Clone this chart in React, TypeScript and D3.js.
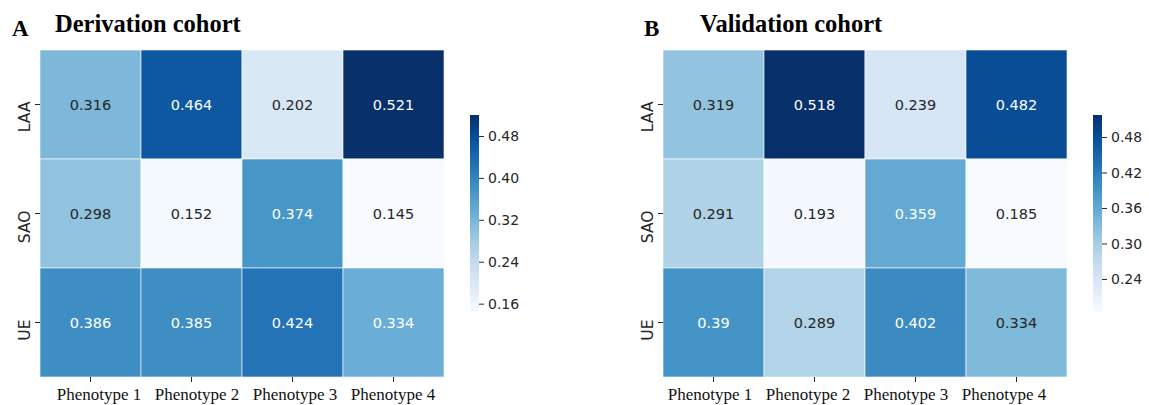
import React from "react";
import * as d3 from "d3";

const phenotypes = ["Phenotype 1", "Phenotype 2", "Phenotype 3", "Phenotype 4"];
const groups = ["LAA", "SAO", "UE"];
const derivationValues = [
  [0.316, 0.464, 0.202, 0.521],
  [0.298, 0.152, 0.374, 0.145],
  [0.386, 0.385, 0.424, 0.334],
];
const validationValues = [
  [0.319, 0.518, 0.239, 0.482],
  [0.291, 0.193, 0.359, 0.185],
  [0.39, 0.289, 0.402, 0.334],
];
const derivationTicks = [0.16, 0.24, 0.32, 0.4, 0.48];
const validationTicks = [0.24, 0.3, 0.36, 0.42, 0.48];
const bluesPalette = ["#f7fbff", "#deebf7", "#c6dbef", "#9ecae1", "#6baed6", "#4292c6", "#2171b5", "#08519c", "#08306b"];

const W = 1149;
const H = 405;

function luminance(c: string) {
  const rgb = d3.rgb(c);
  const f = (v: number) => {
    const s = v / 255;
    return s <= 0.03928 ? s / 12.92 : Math.pow((s + 0.055) / 1.055, 2.4);
  };
  return 0.2126 * f(rgb.r) + 0.7152 * f(rgb.g) + 0.0722 * f(rgb.b);
}

type PanelProps = {
  letter: string;
  title: string;
  values: number[][];
  ticks: number[];
  x0: number;
  cbx: number;
  letterX: number;
  titleX: number;
  labelRange: [number, number];
  fmt: (v: number) => string;
};

function Panel({ letter, title, values, ticks, x0, cbx, letterX, titleX, labelRange, fmt }: PanelProps) {
  const top = 50;
  const bottom = 377;
  const width = 404;
  const flat = values.flat();
  const vmin = d3.min(flat)!;
  const vmax = d3.max(flat)!;
  const interp = d3.piecewise(d3.interpolateRgb, bluesPalette);
  const color = d3.scaleSequential(interp).domain([vmin, vmax]);
  const xs = d3.scaleBand().domain(phenotypes).range([x0, x0 + width]);
  const xl = d3.scalePoint().domain(phenotypes).range(labelRange);
  const ys = d3.scaleBand().domain(groups).range([top, bottom]);
  const cbTop = 115;
  const cbBottom = 312;
  const cbW = 9;
  const cbScale = d3.scaleLinear().domain([vmin, vmax]).range([cbBottom, cbTop]);
  const gradId = "grad-" + letter;
  const stops = d3.range(0, 1.0001, 0.05);
  return (
    <g>
      <defs>
        <linearGradient id={gradId} x1="0" y1="1" x2="0" y2="0">
          {stops.map((t) => (
            <stop key={t} offset={t} stopColor={interp(t)} />
          ))}
        </linearGradient>
      </defs>
      <text x={letterX} y={36} fontFamily="'Liberation Serif', 'Times New Roman', serif" fontWeight="bold" fontSize={23} fill="#000">
        {letter}
      </text>
      <text x={titleX} y={32} fontFamily="'Liberation Serif', 'Times New Roman', serif" fontWeight="bold" fontSize={24.5} fill="#000">
        {title}
      </text>
      {values.map((row, i) =>
        row.map((v, j) => {
          const fill = color(v);
          const tc = luminance(fill) > 0.408 ? "#262626" : "#ffffff";
          const cx = xs(phenotypes[j])!;
          const cy = ys(groups[i])!;
          return (
            <g key={i + "-" + j}>
              <rect x={cx} y={cy} width={xs.bandwidth()} height={ys.bandwidth()} fill={fill} stroke="#ffffff" strokeWidth={0.6} />
              <text
                x={cx + xs.bandwidth() / 2}
                y={cy + ys.bandwidth() / 2}
                textAnchor="middle"
                dominantBaseline="central"
                fontFamily="'DejaVu Sans', sans-serif"
                fontSize={14.5}
                fill={tc}
              >
                {fmt(v)}
              </text>
            </g>
          );
        })
      )}
      {groups.map((g) => {
        const cy = ys(g)! + ys.bandwidth() / 2;
        return (
          <g key={g}>
            <line x1={x0 - 5} x2={x0} y1={cy} y2={cy} stroke="#262626" strokeWidth={1} />
            <text
              transform={`translate(${x0 - 10},${cy - 3}) rotate(-90)`}
              textAnchor="end"
              fontFamily="'DejaVu Sans', sans-serif"
              fontSize={15.5}
              fill="#262626"
            >
              {g}
            </text>
          </g>
        );
      })}
      {phenotypes.map((p) => {
        const cx = xs(p)! + xs.bandwidth() / 2;
        return (
          <g key={p}>
            <line x1={cx} x2={cx} y1={bottom} y2={bottom + 5} stroke="#262626" strokeWidth={1} />
            <text
              x={xl(p)!}
              y={400}
              textAnchor="middle"
              fontFamily="'Liberation Serif', 'Times New Roman', serif"
              fontSize={17}
              fill="#111"
            >
              {p}
            </text>
          </g>
        );
      })}
      <rect x={cbx} y={cbTop} width={cbW} height={cbBottom - cbTop} fill={`url(#${gradId})`} />
      {ticks.map((t) => (
        <g key={t}>
          <line x1={cbx + cbW} x2={cbx + cbW + 5} y1={cbScale(t)} y2={cbScale(t)} stroke="#262626" strokeWidth={1} />
          <text
            x={cbx + cbW + 9}
            y={cbScale(t)}
            dominantBaseline="central"
            fontFamily="'DejaVu Sans', sans-serif"
            fontSize={14}
            fill="#262626"
          >
            {t.toFixed(2)}
          </text>
        </g>
      ))}
    </g>
  );
}

export default function App() {
  const fmt = (v: number) => String(v);
  return (
    <svg width={W} height={H} style={{ position: "absolute", left: 0, top: 0, background: "#fff" }}>
      <rect width={W} height={H} fill="#fff" />
      <Panel letter="A" title="Derivation cohort" values={derivationValues} ticks={derivationTicks} x0={40} cbx={470} letterX={12} titleX={55} labelRange={[99, 393]} fmt={fmt} />
      <Panel letter="B" title="Validation cohort" values={validationValues} ticks={validationTicks} x0={663} cbx={1093} letterX={644} titleX={700} labelRange={[710, 1004]} fmt={fmt} />
    </svg>
  );
}
